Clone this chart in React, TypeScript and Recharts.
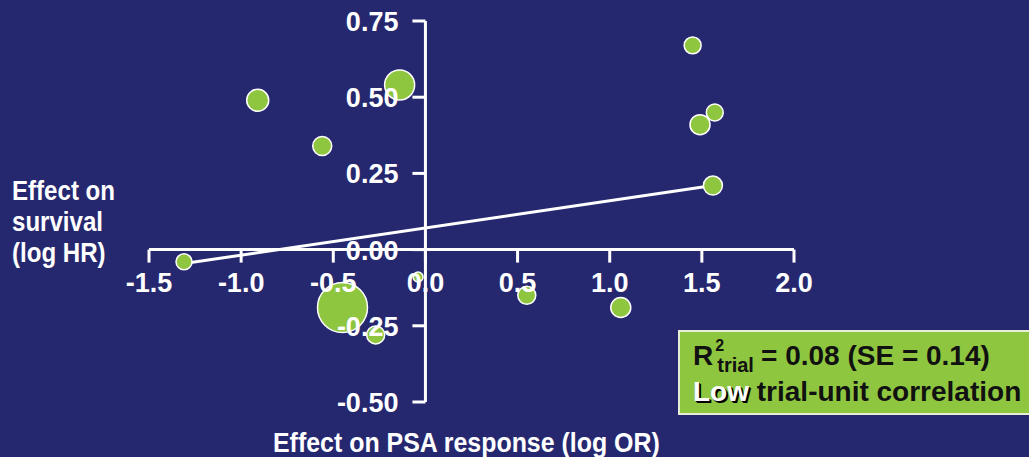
import React from "react";
import {
  ScatterChart,
  Scatter,
  XAxis,
  YAxis,
  ZAxis,
  ReferenceLine,
  ReferenceDot,
} from "recharts";

// trial-level effects: x = log OR of PSA response, y = log HR of survival, n = relative trial size
const trialX = [-1.31, -0.91, -0.56, -0.14, -0.45, -0.27, -0.04, 0.55, 1.06, 1.45, 1.49, 1.57, 1.56];
const trialY = [-0.04, 0.49, 0.34, 0.54, -0.19, -0.28, -0.09, -0.15, -0.19, 0.67, 0.41, 0.45, 0.21];
const trialN = [64, 121, 90, 225, 625, 81, 25, 81, 100, 72, 100, 72, 90];

// fitted regression line end points
const fitX = [-1.3, 1.56];
const fitY = [-0.045, 0.21];

const xTicks = [-1.5, -1.0, -0.5, 0.0, 0.5, 1.0, 1.5, 2.0];
const yTicks = [0.75, 0.5, 0.25, 0.0, -0.25, -0.5];

const trials = trialX.map((x, i) => ({ x, y: trialY[i], n: trialN[i] }));

const BG = "#26286f";
const GREEN = "#8fc63f";
const FONT = "'Liberation Sans', Arial, sans-serif";

const XTick = (t: number) => (p: any) => (
  <g>
    <line x1={p.cx} y1={p.cy} x2={p.cx} y2={p.cy + 13} stroke="#fff" strokeWidth={3} />
    <text
      x={p.cx}
      y={p.cy + 42}
      textAnchor="middle"
      fill="#fff"
      fontSize={27}
      fontWeight="bold"
      fontFamily={FONT}
    >
      {t.toFixed(1)}
    </text>
  </g>
);

const YTick = (t: number) => (p: any) => (
  <g>
    <line x1={p.cx} y1={p.cy} x2={p.cx - 13} y2={p.cy} stroke="#fff" strokeWidth={3} />
    <text
      x={p.cx - 27}
      y={p.cy + 10}
      textAnchor="end"
      fill="#fff"
      fontSize={27}
      fontWeight="bold"
      fontFamily={FONT}
    >
      {t.toFixed(2)}
    </text>
  </g>
);

export default function App() {
  const maxN = Math.max(...trialN);
  return (
    <div
      style={{
        position: "absolute",
        left: 0,
        top: 0,
        width: 1029,
        height: 457,
        background: BG,
        overflow: "hidden",
        fontFamily: FONT,
      }}
    >
      <ScatterChart width={1029} height={457} margin={{ left: 149, right: 235, top: 21, bottom: 55 }}>
        <XAxis type="number" dataKey="x" domain={[-1.5, 2]} hide />
        <YAxis type="number" dataKey="y" domain={[-0.5, 0.75]} hide />
        <ZAxis type="number" dataKey="n" domain={[0, maxN]} range={[0, Math.PI * maxN]} />
        <Scatter data={trials} fill={GREEN} stroke="#fff" strokeWidth={1.5} isAnimationActive={false} />
        <ReferenceLine
          segment={[
            { x: fitX[0], y: fitY[0] },
            { x: fitX[1], y: fitY[1] },
          ]}
          stroke="#fff"
          strokeWidth={3}
        />
        <ReferenceLine
          segment={[
            { x: xTicks[0], y: 0 },
            { x: xTicks[xTicks.length - 1], y: 0 },
          ]}
          stroke="#fff"
          strokeWidth={3}
        />
        <ReferenceLine
          segment={[
            { x: 0, y: yTicks[yTicks.length - 1] },
            { x: 0, y: yTicks[0] },
          ]}
          stroke="#fff"
          strokeWidth={3}
        />
        {xTicks.map((t) => (
          <ReferenceDot key={"x" + t} x={t} y={0} r={0} shape={XTick(t)} />
        ))}
        {yTicks.map((t) => (
          <ReferenceDot key={"y" + t} x={0} y={t} r={0} shape={YTick(t)} />
        ))}
      </ScatterChart>

      <div
        style={{
          position: "absolute",
          left: 12,
          top: 175,
          color: "#fff",
          fontWeight: "bold",
          fontSize: 28,
          lineHeight: "31px",
          whiteSpace: "nowrap",
          transform: "scaleX(0.86)",
          transformOrigin: "left top",
        }}
      >
        Effect on
        <br />
        survival
        <br />
        (log HR)
      </div>
      <div
        style={{
          position: "absolute",
          left: 273,
          top: 428,
          color: "#fff",
          fontWeight: "bold",
          fontSize: 28,
          lineHeight: "30px",
          whiteSpace: "nowrap",
          transform: "scaleX(0.89)",
          transformOrigin: "left top",
        }}
      >
        Effect on PSA response (log OR)
      </div>
      <div
        style={{
          position: "absolute",
          left: 678,
          top: 330,
          width: 360,
          height: 85,
          background: GREEN,
          border: "2px solid #e6efd6",
          boxSizing: "border-box",
          color: "#111",
          fontWeight: "bold",
          fontSize: 28,
          lineHeight: "33px",
          padding: "7px 0 0 13px",
          whiteSpace: "nowrap",
        }}
      >
        <div>
          R
          <span style={{ position: "relative", display: "inline-block", width: 40 }}>
            <span style={{ position: "absolute", left: 2, top: -10, fontSize: 16 }}>2</span>
            <span style={{ position: "relative", top: 7, left: 4, fontSize: 20 }}>trial</span>
          </span>
          {" = 0.08 (SE = 0.14)"}
        </div>
        <div>
          <span style={{ color: "#fff", textShadow: "1px 1px 0 #000, 2px 2px 0 #000" }}>Low</span> trial-unit
          correlation
        </div>
      </div>
    </div>
  );
}
